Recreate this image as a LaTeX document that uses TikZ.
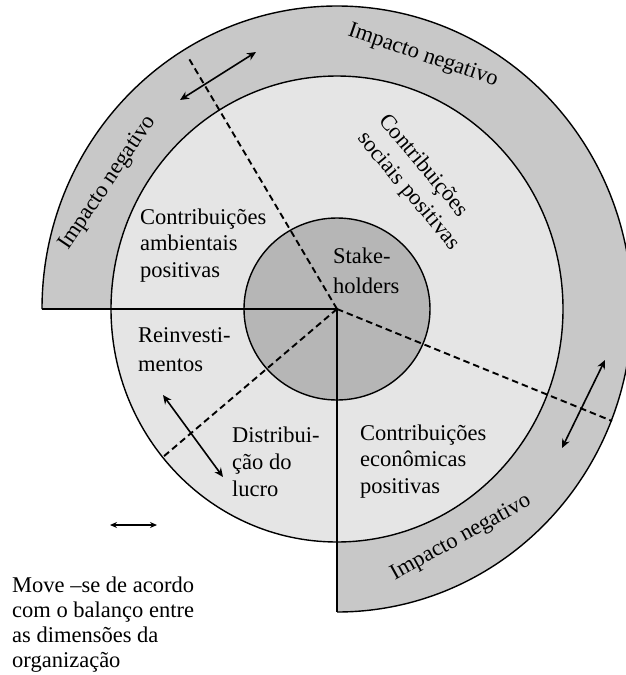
\documentclass[tikz,border=0pt]{standalone}
\usepackage{fontspec}
\setmainfont{Liberation Serif}
\usetikzlibrary{arrows.meta}
\definecolor{ringgray}{RGB}{200,200,200}
\definecolor{midgray}{RGB}{229,229,229}
\definecolor{coregray}{RGB}{182,182,182}
\newcommand{\mylines}[1]{\begin{tabular}[t]{@{}l@{}}#1\end{tabular}}
\begin{document}
\begin{tikzpicture}[x=1pt,y=1pt,
  outline/.style={line width=1.4pt},
  radial/.style={line width=2.4pt},
  divider/.style={line width=1.9pt, dash pattern=on 6.5pt off 4pt},
  movearrow/.style={line width=1.6pt, {Stealth[length=9pt,width=8pt]}-{Stealth[length=9pt,width=8pt]}},
  legendarrow/.style={line width=1.4pt, {Stealth[length=7pt,width=6pt]}-{Stealth[length=7pt,width=6pt]}},
  lbl/.style={inner sep=0pt, anchor=base west, font=\fontsize{22.5}{#1}\selectfont},
  ringlbl/.style={inner sep=0pt, anchor=center, font=\fontsize{22.5}{26}\selectfont}
]
\useasboundingbox (0,0) rectangle (625,-675);
\fill[white] (0,0) rectangle (625,-675);
\coordinate (C) at (337,-309);
\coordinate (L) at (42,-309);
\coordinate (B) at (337,-612);
% outer ring (three quarters)
\fill[ringgray] (C) -- (L) arc[start angle=180,end angle=-90,x radius=295,y radius=303] -- cycle;
\draw[outline] (L) arc[start angle=180,end angle=-90,x radius=295,y radius=303];
% middle disk and core
\filldraw[fill=midgray, outline] (C) ellipse[x radius=226, y radius=233];
\filldraw[fill=coregray, outline] (C) ellipse[x radius=93, y radius=91];
% radial solid lines
\draw[radial] (L) -- (C) -- (B);
% dashed dividers
\coordinate (D1) at (188,-57);
\coordinate (D2) at (612,-421);
\coordinate (D3) at (163,-457);
\draw[divider] (C) -- (D1);
\draw[divider] (C) -- (D2);
\draw[divider] (C) -- (D3);
% double arrows
\coordinate (A1a) at (180,-100); \coordinate (A1b) at (256,-52);
\coordinate (A2a) at (562,-448); \coordinate (A2b) at (605,-360);
\coordinate (A3a) at (163,-395); \coordinate (A3b) at (223,-477);
\coordinate (A4a) at (110,-525); \coordinate (A4b) at (157,-525);
\draw[movearrow] (A1a) -- (A1b);
\draw[movearrow] (A2a) -- (A2b);
\draw[movearrow] (A3a) -- (A3b);
\draw[legendarrow] (A4a) -- (A4b);
% ring labels
\node[ringlbl, rotate=-19] (imptop) at (423,-56) {Impacto negativo};
\node[ringlbl, rotate=56] (impleft) at (108,-183) {Impacto negativo};
\node[ringlbl, rotate=29] (impbot) at (461,-538) {Impacto negativo};
% text blocks
\node[lbl=26.5] (amb) at (140,-224) {\mylines{Contribuições\\ambientais\\positivas}};
\node[lbl=27.5, rotate=-50] (soc) at (378,-121) {\mylines{Contribuições\\sociais positivas}};
\node[lbl=30] (stake) at (333,-263) {\mylines{Stake-\\holders}};
\node[lbl=29] (reinv) at (138,-342) {\mylines{Reinvesti-\\mentos}};
\node[lbl=27] (dist) at (232,-442) {\mylines{Distribui-\\ção do\\lucro}};
\node[lbl=26.5] (eco) at (360,-440) {\mylines{Contribuições\\econômicas\\positivas}};
\node[lbl=25] (legend) at (12,-592) {\mylines{Move –se de acordo\\com o balanço entre\\as dimensões da\\organização}};
\end{tikzpicture}
\end{document}
